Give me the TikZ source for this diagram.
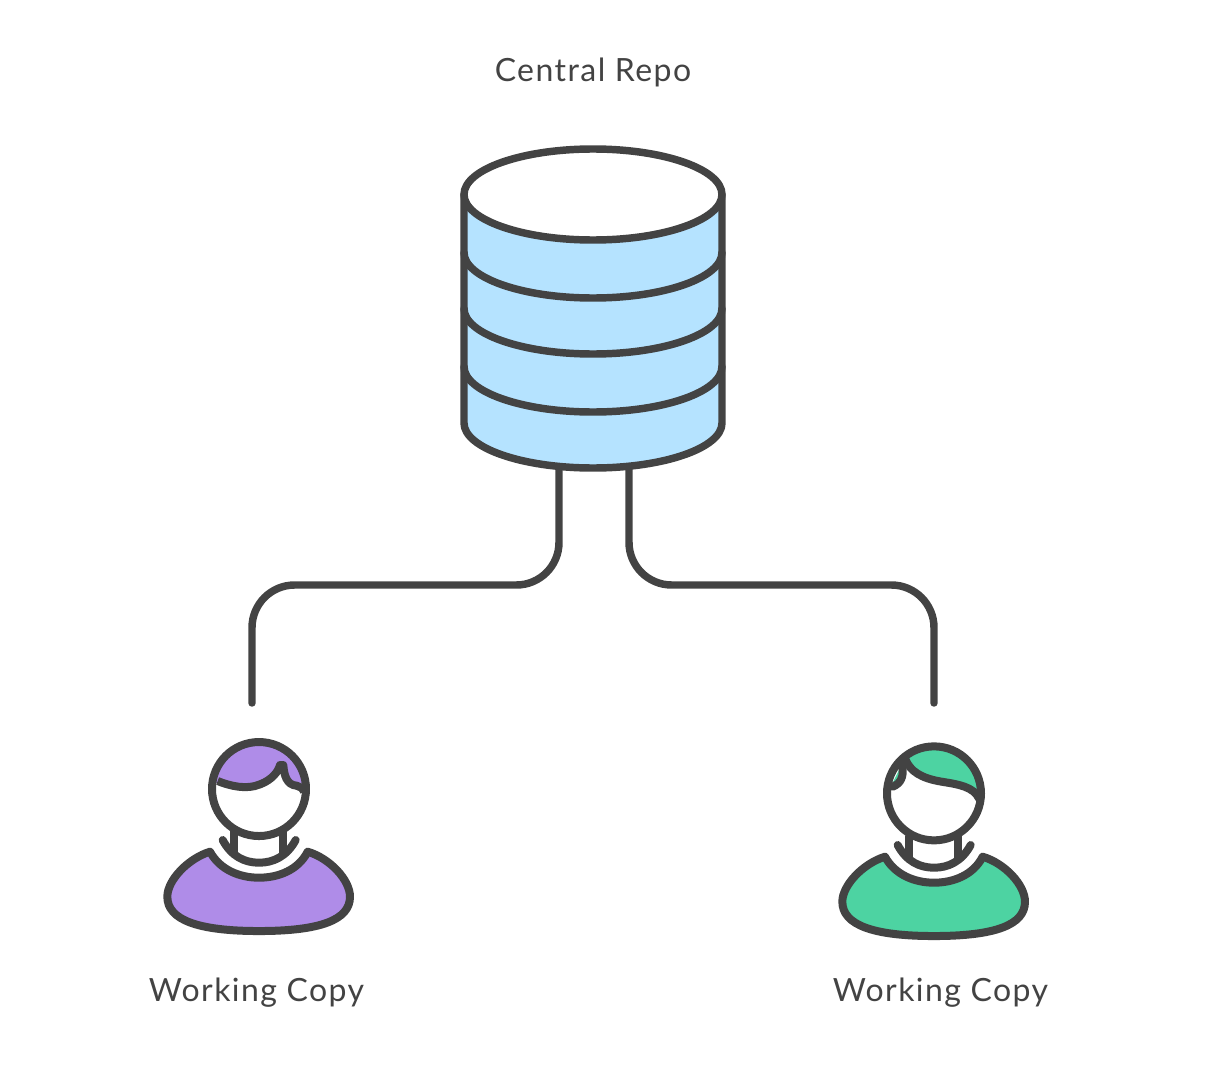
\documentclass[tikz,border=0pt]{standalone}
\usepackage{fontspec}
\setmainfont{Lato}[LetterSpace=4.5]
\definecolor{ink}{HTML}{434343}
\definecolor{repoblue}{HTML}{B5E3FF}
\definecolor{userpurple}{HTML}{AF8CE8}
\definecolor{usergreen}{HTML}{4DD3A2}
\newcommand{\personbase}[1]{%
  % neck and collar
  \draw[figstroke] (253,320) -- (253,385);
  \draw[figstroke] (400,320) -- (400,385);
  \draw[figstroke] (218,345) .. controls (245,395) and (285,413) .. (327,413) .. controls (369,413) and (410,395) .. (437,345);
  % body
  \draw[figstroke,fill=#1] (180,380) .. controls (210,435) and (270,458) .. (327,458)
     .. controls (385,458) and (445,435) .. (473,380)
     .. controls (540,400) and (600,465) .. (600,515)
     .. controls (600,585) and (510,618) .. (327,618)
     .. controls (145,618) and (52,585) .. (52,515)
     .. controls (52,465) and (115,400) .. (180,380) -- cycle;
}
\tikzset{
  stroke/.style={draw=ink,line width=5.6pt,line join=round,line cap=round},
  figstroke/.style={stroke,line width=6pt},
  connector/.style={stroke,rounded corners=32pt},
  caption/.style={text=ink,font=\fontsize{24pt}{28pt}\selectfont,inner sep=0pt,anchor=center},
  personscale/.style={x=0.25pt,y=-0.25pt}
}
\begin{document}
\begin{tikzpicture}[x=0.75pt,y=-0.75pt]
\useasboundingbox (0,0) rectangle (1208,1088);
% named connection points
\coordinate (repoL) at (559,466);
\coordinate (repoR) at (629,466);
\coordinate (bus) at (593,585);
\coordinate (userA) at (252,703);
\coordinate (userB) at (934,703);
% connectors
\draw[connector] (repoL) -- (repoL |- bus) -- (userA |- bus) -- (userA);
\draw[connector] (repoR) -- (repoR |- bus) -- (userB |- bus) -- (userB);
% repository
\draw[stroke,fill=repoblue] (464,194.5) -- (464,423) arc[start angle=180,end angle=0,x radius=129,y radius=45] -- (722,194.5) -- cycle;
\draw[stroke] (464,252.5) arc[start angle=180,end angle=0,x radius=129,y radius=45.5];
\draw[stroke] (464,308.5) arc[start angle=180,end angle=0,x radius=129,y radius=45.5];
\draw[stroke] (464,366.5) arc[start angle=180,end angle=0,x radius=129,y radius=45.5];
\draw[stroke,fill=white] (593,194.5) ellipse[x radius=129,y radius=45.5];
% first user
\begin{scope}[shift={(259,786.7)},personscale]
  \begin{scope}[shift={(-327,-185)}]
    \personbase{userpurple}
    \begin{scope}
      \clip (327,192) circle[radius=141];
      \fill[userpurple] (190,30) rectangle (470,200);
      \fill[white] (180,168) .. controls (240,190) and (290,195) .. (330,178)
        .. controls (365,165) and (385,140) .. (390,120)
        -- (400,120) .. controls (402,150) and (410,180) .. (440,182)
        .. controls (450,183) and (460,185) .. (475,200) -- (475,340) -- (180,340) -- cycle;
    \end{scope}
    \draw[figstroke,line cap=butt] (203,168) .. controls (240,183) and (290,195) .. (330,178)
        .. controls (365,165) and (385,140) .. (390,120)
        -- (400,120) .. controls (402,150) and (410,180) .. (440,182)
        .. controls (450,183) and (458,190) .. (462,200);
    \draw[figstroke] (327,192) circle[radius=141];
  \end{scope}
\end{scope}
% second user
\begin{scope}[shift={(934,791.7)},personscale]
  \begin{scope}[shift={(-327,-185)}]
    \personbase{usergreen}
    \begin{scope}
      \clip (327,190) circle[radius=141];
      \fill[usergreen] (240,70) .. controls (255,125) and (290,145) .. (350,157)
        .. controls (400,165) and (445,170) .. (465,205) -- (480,30) -- (240,30) -- cycle;
      \fill[usergreen] (222,120) -- (203,158) -- (220,150) -- cycle;
    \end{scope}
    \draw[figstroke] (240,85) .. controls (255,125) and (290,145) .. (350,155)
        .. controls (400,163) and (445,170) .. (462,205);
    \draw[figstroke] (232,112) .. controls (236,140) and (228,160) .. (203,170);
    \draw[figstroke] (327,190) circle[radius=141];
  \end{scope}
\end{scope}
% labels
\node[caption] (central) at (593,72) {Central Repo};
\node[caption] (copyA) at (256.5,993) {Working Copy};
\node[caption] (copyB) at (940.5,993) {Working Copy};
\end{tikzpicture}
\end{document}
